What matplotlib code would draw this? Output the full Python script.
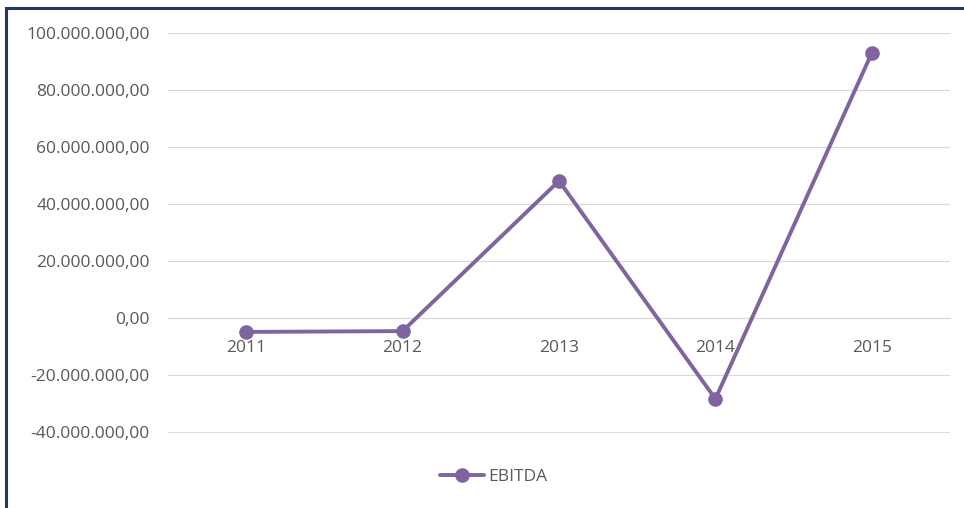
import matplotlib
matplotlib.use('Agg')
import matplotlib.pyplot as plt
from matplotlib.lines import Line2D
from matplotlib.ticker import FuncFormatter

years = ['2011', '2012', '2013', '2014', '2015']
ebitda = [-4900000, -4600000, 48100000, -28400000, 93000000]
y_ticks = [-40000000, -20000000, 0, 20000000, 40000000, 60000000, 80000000, 100000000]

plt.rcParams['font.family'] = ['Open Sans', 'DejaVu Sans']

purple = '#8064A2'
grey_text = '#595959'


def br_fmt(v, pos):
    s = '{:,.2f}'.format(v)
    return s.replace(',', 'X').replace('.', ',').replace('X', '.')


fig = plt.figure(figsize=(9.64, 5.08), dpi=100)
ax = fig.add_axes([168 / 964, 74.6 / 508, 782 / 964, 400.4 / 508])

x = list(range(len(years)))
ax.plot(x, ebitda, color=purple, lw=2.8, marker='o', ms=9.5, label='EBITDA',
        solid_capstyle='round', zorder=3)

ax.set_xlim(-0.5, 4.5)
ax.set_ylim(-40500000, 100000000)
ax.set_yticks(y_ticks)
ax.yaxis.set_major_formatter(FuncFormatter(br_fmt))
ax.grid(axis='y', color='#D9D9D9', lw=0.8)
ax.set_axisbelow(True)

for side in ['left', 'right', 'top']:
    ax.spines[side].set_visible(False)
ax.spines['bottom'].set_position(('data', 0))
ax.spines['bottom'].set_color('#D9D9D9')
ax.spines['bottom'].set_linewidth(0.8)

ax.set_xticks(x)
ax.set_xticklabels(years)
ax.tick_params(axis='x', length=0, pad=16, labelsize=12.5, labelcolor=grey_text)
ax.tick_params(axis='y', length=0, pad=13, labelsize=12.5, labelcolor=grey_text)

leg = fig.legend(loc='center', bbox_to_anchor=(494 / 964, 1 - 477 / 508),
                 frameon=False, fontsize=12.5, handlelength=2.5, handletextpad=0.3)
for t in leg.get_texts():
    t.set_color(grey_text)

# chart frame on top and left
fig.add_artist(Line2D([6 / 964, 1], [1 - 8 / 508, 1 - 8 / 508], color='#1F3864', lw=2.2,
                      transform=fig.transFigure))
fig.add_artist(Line2D([6 / 964, 6 / 964], [0, 1 - 8 / 508], color='#1F3864', lw=2.2,
                      transform=fig.transFigure))

fig.savefig('out.png', dpi=100)
